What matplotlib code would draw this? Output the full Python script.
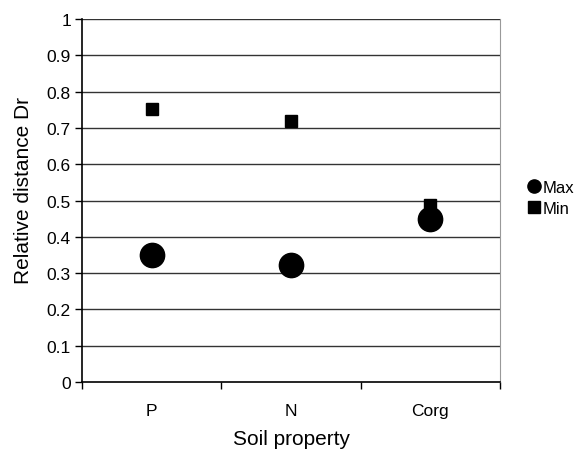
import matplotlib
matplotlib.use('Agg')
from matplotlib import pyplot as plt
import numpy as np

plt.rcParams['font.family'] = ['Liberation Sans', 'DejaVu Sans']

categories = ['P', 'N', 'Corg']
max_values = [0.35, 0.323, 0.45]
min_values = [0.752, 0.72, 0.488]
y_ticks = [0, 0.1, 0.2, 0.3, 0.4, 0.5, 0.6, 0.7, 0.8, 0.9, 1]

fig = plt.figure(figsize=(5.75, 4.52), dpi=100)
ax = fig.add_axes([0.1426, 0.1527, 0.727, 0.803])

x = np.arange(len(categories))
ax.plot(x, min_values, 's', color='black', markersize=8, label='Min', zorder=3)
ax.plot(x, max_values, 'o', color='black', markersize=17.5, label='Max', zorder=4)

ax.set_xlim(-0.5, len(categories) - 0.5)
ax.set_ylim(0, 1)
ax.set_yticks(y_ticks)
ax.set_yticklabels([f'{v:g}' for v in y_ticks], fontsize=12.5)
ax.set_xticks(x)
ax.set_xticklabels(categories, fontsize=12.5)
ax.tick_params(axis='x', length=0, pad=15)
ax.set_xticks(np.arange(len(categories) + 1) - 0.5, minor=True)
ax.tick_params(axis='x', which='minor', length=5, width=1, direction='out')
ax.tick_params(axis='y', length=5, width=1, direction='out', pad=3)

for v in y_ticks[1:]:
    ax.axhline(v, color='#333333', linewidth=1, zorder=1)

ax.spines['top'].set_visible(False)
ax.spines['right'].set_color('#999999')
ax.spines['left'].set_linewidth(1.2)
ax.spines['bottom'].set_linewidth(1.2)

ax.set_xlabel('Soil property', fontsize=15)
ax.set_ylabel('Relative distance Dr', fontsize=15)
ax.xaxis.set_label_coords(0.5, -0.13)
ax.yaxis.set_label_coords(-0.117, 0.53)

handles, labels = ax.get_legend_handles_labels()
leg = fig.legend([handles[1], handles[0]], [labels[1], labels[0]],
                 loc='center left', bbox_to_anchor=(0.895, 0.56), frameon=False,
                 fontsize=12, handlelength=0.55, handletextpad=0.2, labelspacing=0.4)
leg.legend_handles[0].set_markersize(9.5)
leg.legend_handles[1].set_markersize(8)

fig.savefig('out.png', dpi=100)
